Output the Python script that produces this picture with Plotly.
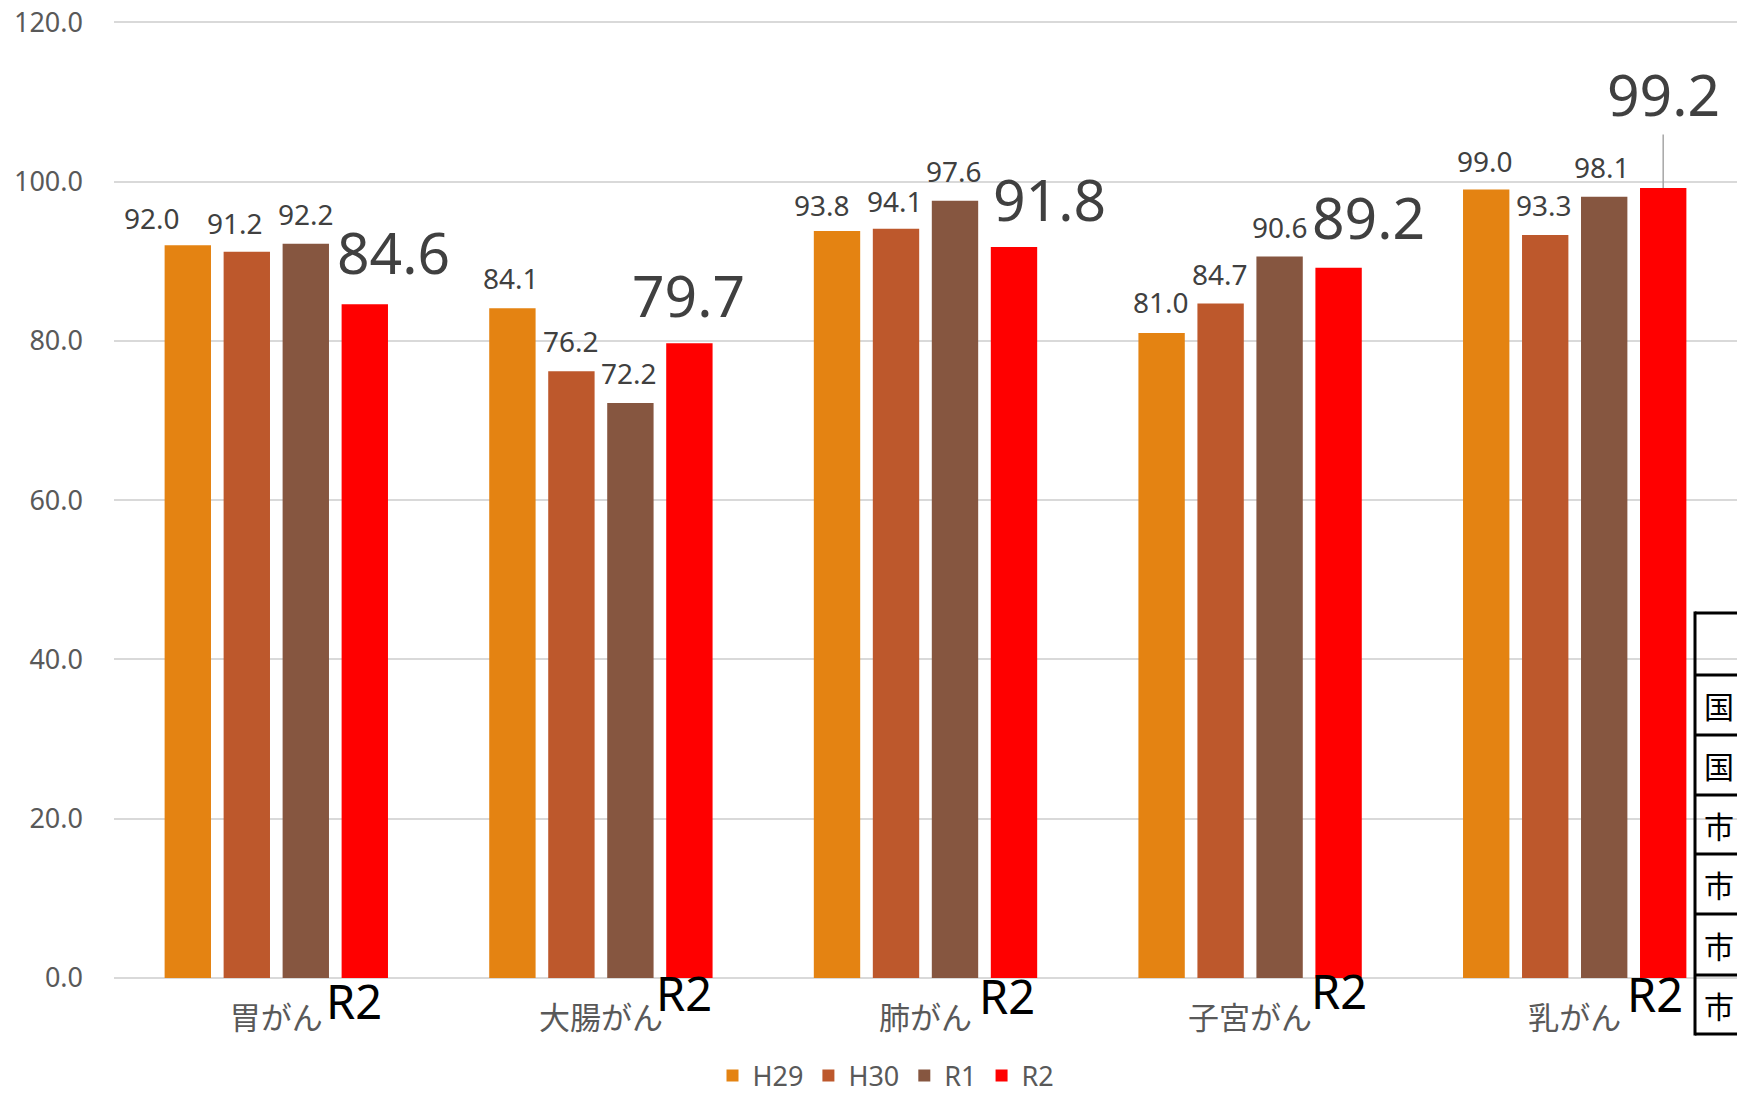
import plotly.graph_objects as go

# ---------------- data ----------------
categories = ["胃がん", "大腸がん", "肺がん", "子宮がん", "乳がん"]
series_names = ["H29", "H30", "R1", "R2"]
h29 = [92.0, 84.1, 93.8, 81.0, 99.0]
h30 = [91.2, 76.2, 94.1, 84.7, 93.3]
r1 = [92.2, 72.2, 97.6, 90.6, 98.1]
r2 = [84.6, 79.7, 91.8, 89.2, 99.2]
y_ticks = [0, 20, 40, 60, 80, 100, 120]
axis_marker = "R2"
table_cells = ["", "国", "国", "市", "市", "市", "市"]

# ---------------- styles / layout ----------------
W, H = 1737, 1094
ML, MR, MT, MB = 114, 0, 20, 116
Y_TOP = 120.3
colors = ["#E48312", "#BD582C", "#865640", "#FF0000"]
BARGAP = 0.273
GROUPGAP = 0.214
label_font = "Noto Sans, Open Sans, sans-serif"
cjk_font = "Noto Sans CJK JP, Noto Sans, sans-serif"

plot_w = W - ML - MR
plot_h = H - MT - MB
cat_px = plot_w / len(categories)
slot = (1 - BARGAP) / len(series_names)

# label pixel offsets (dx, dy above bar top) per series, per category
label_offsets = [
    [(-36, 27), (-1, 30), (-15, 26), (-1, 31), (-1, 29)],   # H29
    [(-12, 29), (0, 30), (-1, 28), (-1, 30), (-1, 30)],     # H30
    [(0, 30), (-1, 30), (-1, 30), (0, 30), (-2, 30)],       # R1
    [(29, 52), (-1, 48), (36, 48), (30, 51), (0, 94)],      # R2 (large)
]
# "R2" marker offsets below the axis (dx from group centre, dy)
marker_offsets = [(78, -23), (83, -15), (81, -18), (89, -13), (80, -16)]

all_series = [h29, h30, r1, r2]

fig = go.Figure()
for name, vals, col in zip(series_names, all_series, colors):
    fig.add_trace(go.Bar(
        x=categories, y=vals, name=name,
        marker=dict(color=col, line=dict(width=0)),
    ))

annotations = []
for s, (vals, offs) in enumerate(zip(all_series, label_offsets)):
    big = (s == len(series_names) - 1)
    for i, v in enumerate(vals):
        dx, dy = offs[i]
        xpos = i + (s - 1.5) * slot + dx / cat_px
        if big and dy > 80:
            annotations.append(dict(
                x=i + (s - 1.5) * slot, y=v, xref="x", yref="y",
                text=f"{v:.1f}", showarrow=True, arrowhead=0,
                arrowcolor="#A6A6A6", arrowwidth=1.5, ax=dx, ay=-dy,
                standoff=0, font=dict(family=label_font, size=57, color="#404040"),
            ))
        else:
            annotations.append(dict(
                x=xpos, y=v, xref="x", yref="y", text=f"{v:.1f}",
                showarrow=False, yanchor="middle", xanchor="center", yshift=dy,
                font=dict(family=label_font, size=57 if big else 28, color="#404040"),
            ))

# "R2" markers below the axis
for i in range(len(categories)):
    mdx, mdy = marker_offsets[i]
    annotations.append(dict(
        x=i + mdx / cat_px, y=0, xref="x", yref="paper", text=axis_marker,
        showarrow=False, yanchor="middle", xanchor="center", yshift=mdy,
        font=dict(family=label_font, size=47, color="#000000"),
    ))

# overlaid table at the right edge
def px_to_paper_x(px):
    return (px - ML) / plot_w

def px_to_paper_y(py):
    return (H - MB - py) / plot_h

row_lines = [613, 675, 735, 795, 854, 914, 975, 1034]
table_left = 1695
shapes = []
shapes.append(dict(type="line", xref="paper", yref="paper",
                   x0=px_to_paper_x(table_left), x1=px_to_paper_x(table_left),
                   y0=px_to_paper_y(row_lines[0] - 1.5), y1=px_to_paper_y(row_lines[-1] + 1.5),
                   line=dict(color="black", width=3)))
for ry in row_lines:
    shapes.append(dict(type="line", xref="paper", yref="paper",
                       x0=px_to_paper_x(table_left), x1=px_to_paper_x(W + 40),
                       y0=px_to_paper_y(ry), y1=px_to_paper_y(ry),
                       line=dict(color="black", width=3)))
for k, txt in enumerate(table_cells):
    if not txt:
        continue
    cy = (row_lines[k] + row_lines[k + 1]) / 2
    annotations.append(dict(
        x=px_to_paper_x(1702), y=px_to_paper_y(cy), xref="paper", yref="paper",
        text=txt, showarrow=False, xanchor="left", yanchor="middle",
        font=dict(family=cjk_font, size=30, color="#000000"),
    ))

fig.update_layout(
    width=W, height=H,
    margin=dict(l=ML, r=MR, t=MT, b=MB, pad=0),
    paper_bgcolor="white", plot_bgcolor="white",
    barmode="group", bargap=BARGAP, bargroupgap=GROUPGAP,
    showlegend=True,
    legend=dict(orientation="h", xref="paper", yref="container",
                x=px_to_paper_x(886), y=(H - 1076) / H,
                xanchor="center", yanchor="middle",
                font=dict(family=label_font, size=27, color="#595959"),
                itemwidth=30, traceorder="normal"),
    annotations=annotations,
    shapes=shapes,
    xaxis=dict(type="category", showgrid=False, showline=False, ticks="",
               tickfont=dict(family=cjk_font, size=31, color="#595959"),
               ticklabelstandoff=19, range=[-0.5, len(categories) - 0.5]),
    yaxis=dict(range=[0, Y_TOP], tickvals=y_ticks, tickformat=".1f",
               showgrid=True, gridcolor="#D9D9D9", gridwidth=1.5,
               zeroline=True, zerolinecolor="#D9D9D9", zerolinewidth=1.5,
               showline=False, ticks="", ticklabelstandoff=30,
               tickfont=dict(family=label_font, size=27, color="#595959")),
)

fig.write_html(
    "out.html",
    config={"displayModeBar": False},
    post_script="document.body.style.margin='0';document.body.style.overflow='hidden';",
)
